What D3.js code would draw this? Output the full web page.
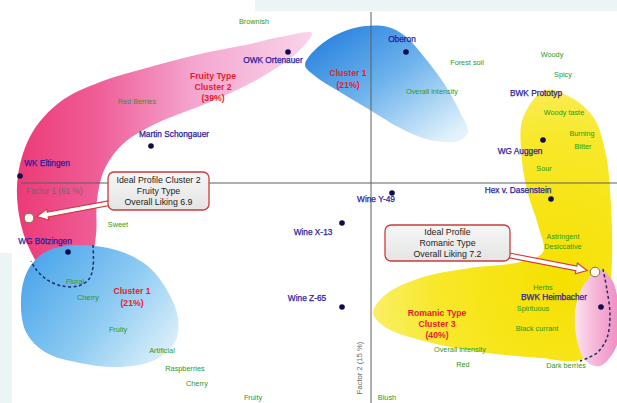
<!DOCTYPE html>
<html><head><meta charset="utf-8">
<script src="https://cdn.jsdelivr.net/npm/d3@7"></script>
<style>
body{margin:0;background:#fff;}
svg{display:block;font-family:"Liberation Sans",Arial,sans-serif;}
</style>
</head><body>
<svg id="chart" width="617" height="403"></svg>
<script>
// ---- data (factor scores, units of 1/100 of the plotted factor range) ----
const axisTitles = ["Factor 1 (61 %)", "Factor 2 (15 %)"];

const wines = [
  {name:"OWK Ortenauer",     x:-0.83, y: 1.31, lx:-0.98, ly: 1.23, dot:true},
  {name:"Oberon",            x: 0.35, y: 1.31, lx: 0.31, ly: 1.44, dot:true},
  {name:"Martin Schongauer", x:-2.20, y: 0.37, lx:-1.97, ly: 0.49, dot:true},
  {name:"WK Eltingen",       x:-3.51, y: 0.07, lx:-3.24, ly: 0.20, dot:true},
  {name:"WG Bötzingen",      x:-3.03, y:-0.69, lx:-3.26, ly:-0.58, dot:true},
  {name:"Wine Y-49",         x: 0.21, y:-0.10, lx: 0.05, ly:-0.16, dot:true},
  {name:"Wine X-13",         x:-0.29, y:-0.40, lx:-0.58, ly:-0.49, dot:true},
  {name:"Wine Z-65",         x:-0.29, y:-1.24, lx:-0.64, ly:-1.15, dot:true},
  {name:"WG Auggen",         x: 1.72, y: 0.43, lx: 1.49, ly: 0.32, dot:true},
  {name:"Hex v. Dasenstein", x: 1.80, y:-0.16, lx: 1.47, ly:-0.07, dot:true},
  {name:"BWK Prototyp",      x: 1.65, y: 0.90, lx: 1.65, ly: 0.90, dot:false},
  {name:"BWK Heimbacher",    x: 2.30, y:-1.24, lx: 1.83, ly:-1.14, dot:true}
];

const attributes = [
  {name:"Brownish", x:-1.17, y: 1.62},
  {name:"Forest soil", x: 0.96, y: 1.21},
  {name:"Woody", x: 1.81, y: 1.29},
  {name:"Spicy", x: 1.92, y: 1.09},
  {name:"Overall intensity", x: 0.61, y: 0.92},
  {name:"Red Berries", x:-2.34, y: 0.82},
  {name:"Woody taste", x: 1.93, y: 0.71},
  {name:"Burning", x: 2.11, y: 0.50},
  {name:"Bitter", x: 2.12, y: 0.37},
  {name:"Sour", x: 1.73, y: 0.15},
  {name:"Sweet", x:-2.53, y:-0.41},
  {name:"Astringent", x: 1.92, y:-0.53},
  {name:"Desiccative", x: 1.92, y:-0.63},
  {name:"Floral", x:-2.96, y:-0.98},
  {name:"Cherry", x:-2.83, y:-1.14},
  {name:"Fruity", x:-2.53, y:-1.46},
  {name:"Artificial", x:-2.09, y:-1.67},
  {name:"Raspberries", x:-1.86, y:-1.85},
  {name:"Cherry", x:-1.74, y:-2.00},
  {name:"Fruity", x:-1.18, y:-2.14},
  {name:"Herbs", x: 1.72, y:-1.04},
  {name:"Spirituous", x: 1.62, y:-1.25},
  {name:"Black currant", x: 1.66, y:-1.45},
  {name:"Overall intensity", x: 0.89, y:-1.66},
  {name:"Red", x: 0.92, y:-1.81},
  {name:"Dark berries", x: 1.95, y:-1.82},
  {name:"Blush", x: 0.16, y:-2.14}
];

const clusterLabels = [
  {lines:["Fruity Type","Cluster 2","(39%)"], x:-1.58, y:[1.07,0.96,0.85]},
  {lines:["Cluster 1","(21%)"], x:-0.23, y:[1.10,0.98]},
  {lines:["Cluster 1","(21%)"], x:-2.39, y:[-1.08,-1.20]},
  {lines:["Romanic Type","Cluster 3","(40%)"], x:0.66, y:[-1.30,-1.41,-1.52]}
];

const blobPink = [[-0.59,1.50],[-0.91,1.46],[-1.21,1.39],[-1.71,1.29],[-2.21,1.16],[-2.71,1.01],[-3.11,0.81],[-3.39,0.50],[-3.53,0.08],[-3.52,-0.32],[-3.41,-0.67],[-3.23,-0.92],[-2.96,-0.92],[-2.81,-0.79],[-2.75,-0.52],[-2.74,-0.17],[-2.66,0.15],[-2.47,0.40],[-2.16,0.59],[-1.61,0.81],[-1.11,1.05],[-0.73,1.31]];
const blobBlueTop = [[-0.66,1.18],[-0.53,1.36],[-0.31,1.50],[-0.06,1.57],[0.17,1.56],[0.34,1.47],[0.54,1.25],[0.74,0.98],[0.89,0.71],[0.97,0.51],[0.87,0.42],[0.59,0.43],[0.29,0.55],[-0.01,0.73],[-0.31,0.91],[-0.56,1.07]];
const blobBlueLow = [[-3.50,-1.17],[-3.44,-0.89],[-3.29,-0.71],[-3.06,-0.63],[-2.76,-0.63],[-2.46,-0.70],[-2.21,-0.85],[-2.03,-1.09],[-1.93,-1.35],[-1.96,-1.59],[-2.16,-1.77],[-2.51,-1.84],[-2.91,-1.80],[-3.26,-1.69],[-3.45,-1.49]];
const blobYellow = [[1.74,0.93],[2.01,0.85],[2.23,0.65],[2.35,0.28],[2.40,-0.22],[2.41,-0.77],[2.37,-1.27],[2.27,-1.62],[2.09,-1.77],[1.69,-1.75],[1.09,-1.69],[0.49,-1.57],[0.14,-1.44],[0.02,-1.30],[0.14,-1.12],[0.49,-0.95],[0.99,-0.85],[1.49,-0.79],[1.72,-0.69],[1.67,-0.42],[1.56,-0.07],[1.50,0.33],[1.52,0.65]];
const blobPinkSmall = [[2.29,-0.87],[2.41,-0.97],[2.48,-1.27],[2.46,-1.62],[2.29,-1.83],[2.14,-1.77],[2.05,-1.52],[2.05,-1.22],[2.14,-1.00]];

const dashLeft = [[-2.78,-0.62],[-2.78,-0.84],[-2.82,-0.96],[-2.93,-1.03],[-3.09,-1.03],[-3.25,-0.96],[-3.36,-0.85],[-3.40,-0.78]];
const dashRight = [[2.32,-0.86],[2.36,-1.07],[2.39,-1.32],[2.36,-1.55],[2.27,-1.69],[2.17,-1.75],[2.09,-1.78]];

const idealProfiles = [
  {lines:["Ideal Profile Cluster 2","Fruity Type","Overall Liking 6.9"], x:-3.42, y:-0.35, bx:-2.125, by:-0.08},
  {lines:["Ideal Profile","Romanic Type","Overall Liking 7.2"], x:2.24, y:-0.89, bx:0.765, by:-0.60}
];

// ---- scales ----
const W = 617, H = 403;
const x = d3.scaleLinear().domain([-3.5, 2.46]).range([21, 617]);
const y = d3.scaleLinear().domain([-2.2, 1.8]).range([403, 3]);

const svg = d3.select("#chart");
const defs = svg.append("defs");

function linGrad(id, x1, y1, x2, y2, stops){
  const g = defs.append("linearGradient").attr("id", id)
    .attr("x1", x1).attr("y1", y1).attr("x2", x2).attr("y2", y2);
  stops.forEach(s => g.append("stop").attr("offset", s[0]).attr("stop-color", s[1]));
}
linGrad("gPink", 0, 0.5, 1, 0.5, [[0,"#ec3a77"],[0.28,"#ef5f98"],[0.6,"#f4a6cf"],[1,"#f9d4ea"]]);
linGrad("gBlueTop", 0.1, 0.1, 0.9, 0.95, [[0,"#2c84df"],[0.45,"#6cb2ec"],[1,"#e2f2fb"]]);
linGrad("gBlueLow", 0, 0.2, 1, 0.8, [[0,"#4aa5ea"],[0.55,"#8ecbf2"],[1,"#dcf0fa"]]);
linGrad("gPinkSmall", 0, 0.5, 1, 0.5, [[0,"#fbe3f0"],[0.45,"#f6b6d8"],[1,"#ef8cc2"]]);
linGrad("gBox", 0, 0, 0, 1, [[0,"#f6f6f6"],[1,"#e4e4e4"]]);
const rg = defs.append("radialGradient").attr("id","gYellow").attr("cx",0.78).attr("cy",0.7).attr("r",0.95);
[[0,"#f6e000"],[0.55,"#f8e82a"],[1,"#fbf38a"]].forEach(s=>rg.append("stop").attr("offset",s[0]).attr("stop-color",s[1]));

// background panels
svg.append("rect").attr("x",0).attr("y",0).attr("width",W).attr("height",H).attr("fill","#fff");
svg.append("rect").attr("x",255).attr("y",0).attr("width",W-255).attr("height",11).attr("fill","#ecf4f6");
svg.append("rect").attr("x",0).attr("y",253).attr("width",12).attr("height",H-253).attr("fill","#ecf4f6");

const blob = d3.line().x(d=>x(d[0])).y(d=>y(d[1])).curve(d3.curveCatmullRomClosed.alpha(0.5));
const open = d3.line().x(d=>x(d[0])).y(d=>y(d[1])).curve(d3.curveCatmullRom.alpha(0.5));

svg.append("path").attr("d", blob(blobPink)).attr("fill","url(#gPink)");
svg.append("path").attr("d", blob(blobBlueLow)).attr("fill","url(#gBlueLow)");
svg.append("path").attr("d", blob(blobBlueTop)).attr("fill","url(#gBlueTop)");
svg.append("path").attr("d", blob(blobYellow)).attr("fill","url(#gYellow)");
svg.append("path").attr("d", blob(blobPinkSmall)).attr("fill","url(#gPinkSmall)");

[dashLeft, dashRight].forEach(d=>{
  svg.append("path").attr("d", open(d)).attr("fill","none")
    .attr("stroke","#1f2c66").attr("stroke-width",1.5).attr("stroke-dasharray","3,2.5");
});

// axes (zero lines)
svg.append("line").attr("x1",x(0)).attr("x2",x(0)).attr("y1",y(1.71)).attr("y2",y(-2.2))
  .attr("stroke","#5e5e5e").attr("stroke-width",1);
svg.append("line").attr("x1",x(-3.5)).attr("x2",x(2.46)).attr("y1",y(0)).attr("y2",y(0))
  .attr("stroke","#5e5e5e").attr("stroke-width",1);

svg.append("text").attr("x",x(-3.45)).attr("y",y(-0.085)).attr("dominant-baseline","central")
  .attr("font-size",8.2).attr("fill","#6a6a6a").text(axisTitles[0]);
svg.append("text").attr("transform",`translate(${x(-0.12)},${y(-1.85)}) rotate(-90)`)
  .attr("text-anchor","middle").attr("dominant-baseline","central")
  .attr("font-size",7.6).attr("fill","#6a6a6a").text(axisTitles[1]);

// attribute labels
svg.append("g").selectAll("text").data(attributes).join("text")
  .attr("x",d=>x(d.x)).attr("y",d=>y(d.y))
  .attr("text-anchor","middle").attr("dominant-baseline","central")
  .attr("font-size",7.3).attr("fill","#2a9a1c").text(d=>d.name);

// cluster labels
clusterLabels.forEach(c=>{
  c.lines.forEach((t,i)=>{
    svg.append("text").attr("x",x(c.x)).attr("y",y(c.y[i]))
      .attr("text-anchor","middle").attr("dominant-baseline","central")
      .attr("font-size",8.7).attr("font-weight","bold").attr("fill","#ea1a2c").text(t);
  });
});

// wines
svg.append("g").selectAll("circle").data(wines.filter(d=>d.dot)).join("circle")
  .attr("cx",d=>x(d.x)).attr("cy",d=>y(d.y)).attr("r",2.8).attr("fill","#0c0c4e");
svg.append("g").selectAll("text").data(wines).join("text")
  .attr("x",d=>x(d.lx)).attr("y",d=>y(d.ly))
  .attr("text-anchor","middle").attr("dominant-baseline","central")
  .attr("font-size",8.3).attr("fill","#2a1c9e")
  .attr("stroke","#2a1c9e").attr("stroke-width",0.25).text(d=>d.name);

// ideal profiles: box + hollow arrow + circle
const boxSizes = [[101,38],[125,36]];
function arrowPath(sx, sy, ex, ey){
  const dx = ex-sx, dy = ey-sy, L = Math.hypot(dx,dy);
  const ux = dx/L, uy = dy/L, nx = -uy, ny = ux;
  const hw = 2.4, HW = 5.5, HL = 11;
  const bx = ex-ux*HL, by = ey-uy*HL;
  const p = [
    [sx+nx*hw, sy+ny*hw],[bx+nx*hw, by+ny*hw],[bx+nx*HW, by+ny*HW],[ex,ey],
    [bx-nx*HW, by-ny*HW],[bx-nx*hw, by-ny*hw],[sx-nx*hw, sy-ny*hw]
  ];
  return "M"+p.map(q=>q.join(",")).join("L")+"Z";
}
idealProfiles.forEach((d,i)=>{
  const [bw,bh] = boxSizes[i];
  const cx = x(d.bx), cy = y(d.by);
  const px = x(d.x), py = y(d.y);
  const sx = i===0 ? cx-bw/2+2 : cx+bw/2-3;
  const sy = cy+12;
  const dx = px-sx, dy = py-sy, L = Math.hypot(dx,dy);
  const ex = px-dx/L*8, ey = py-dy/L*8;
  svg.append("path").attr("d",arrowPath(sx,sy,ex,ey)).attr("fill","#fff")
    .attr("stroke","#d43838").attr("stroke-width",1.1);
  svg.append("circle").attr("cx",px).attr("cy",py).attr("r",4.8)
    .attr("fill","#fffbef").attr("stroke","#7d7058").attr("stroke-width",1);
  svg.append("rect").attr("x",cx-bw/2).attr("y",cy-bh/2).attr("width",bw).attr("height",bh)
    .attr("rx",6).attr("fill","url(#gBox)").attr("stroke","#c83c3c").attr("stroke-width",1.3);
  d.lines.forEach((t,j)=>{
    svg.append("text").attr("x",cx).attr("y",cy+(j-1)*11.2)
      .attr("text-anchor","middle").attr("dominant-baseline","central")
      .attr("font-size",8.8).attr("fill","#222").text(t);
  });
});
</script>
</body></html>
